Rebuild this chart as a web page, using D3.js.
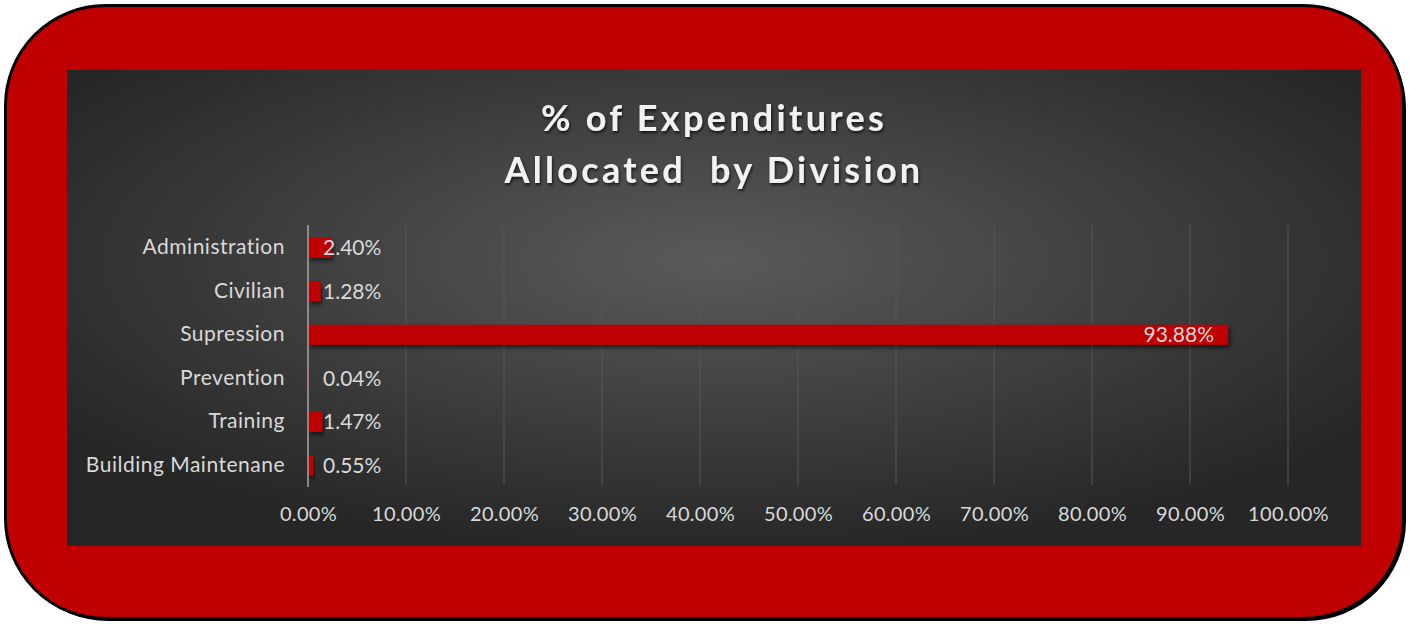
<!DOCTYPE html>
<html>
<head>
<meta charset="utf-8">
<script src="https://cdn.jsdelivr.net/npm/d3@7"></script>
<style>
  html, body { margin: 0; padding: 0; background: #fff; }
  svg { display: block; }
</style>
</head>
<body>
<div id="chart"></div>
<script>
const categories = ['Administration', 'Civilian', 'Supression', 'Prevention', 'Training', 'Building Maintenane'];
const shares = [2.40, 1.28, 93.88, 0.04, 1.47, 0.55];
const tickValues = [0, 10, 20, 30, 40, 50, 60, 70, 80, 90, 100];
const titleLines = ['% of Expenditures', 'Allocated  by Division'];

const width = 1409, height = 624;
const red = '#C00000';
const textColor = '#d9d9d9';
const font = 'Lato, "Open Sans", sans-serif';

const svg = d3.select('#chart').append('svg')
  .attr('width', width)
  .attr('height', height);

const defs = svg.append('defs');

const bg = defs.append('radialGradient')
  .attr('id', 'bg')
  .attr('cx', '50%').attr('cy', '40%').attr('r', '62%')
  .attr('gradientUnits', 'objectBoundingBox');
bg.append('stop').attr('offset', '0%').attr('stop-color', '#5a5a5a');
bg.append('stop').attr('offset', '100%').attr('stop-color', '#262626');

const barShadow = defs.append('filter').attr('id', 'barShadow')
  .attr('x', '-5%').attr('y', '-50%').attr('width', '120%').attr('height', '250%');
barShadow.append('feDropShadow')
  .attr('dx', 2).attr('dy', 3).attr('stdDeviation', 2)
  .attr('flood-color', '#000').attr('flood-opacity', 0.6);

const titleShadow = defs.append('filter').attr('id', 'titleShadow')
  .attr('x', '-10%').attr('y', '-30%').attr('width', '120%').attr('height', '160%');
titleShadow.append('feDropShadow')
  .attr('dx', 1).attr('dy', 2).attr('stdDeviation', 1.5)
  .attr('flood-color', '#000').attr('flood-opacity', 0.7);

// outer red frame with shadow
svg.append('rect')
  .attr('x', 8).attr('y', 8)
  .attr('width', 1398).attr('height', 613)
  .attr('rx', 100).attr('ry', 100)
  .attr('fill', '#000');

svg.append('rect')
  .attr('x', 5.5).attr('y', 5.5)
  .attr('width', 1398).attr('height', 613)
  .attr('rx', 100).attr('ry', 100)
  .attr('fill', red)
  .attr('stroke', '#000')
  .attr('stroke-width', 3);

// chart area
svg.append('rect')
  .attr('x', 67).attr('y', 70)
  .attr('width', 1294).attr('height', 476)
  .attr('fill', 'url(#bg)');

const x = d3.scaleLinear()
  .domain([0, 100])
  .range([308, 1288]);

const y = d3.scaleBand()
  .domain(categories)
  .range([226, 487])
  .paddingInner(0.54)
  .paddingOuter(0.27);

const data = categories.map((c, i) => ({ name: c, value: shares[i] }));

// gridlines
svg.append('g')
  .selectAll('line')
  .data(tickValues.slice(1))
  .join('line')
  .attr('x1', d => x(d)).attr('x2', d => x(d))
  .attr('y1', 225).attr('y2', 485)
  .attr('stroke', '#575757')
  .attr('stroke-width', 1);

// bars
svg.append('g')
  .selectAll('rect')
  .data(data)
  .join('rect')
  .attr('x', x(0))
  .attr('y', d => y(d.name))
  .attr('width', d => Math.max(x(d.value) - x(0), 1))
  .attr('height', y.bandwidth())
  .attr('fill', red)
  .attr('filter', 'url(#barShadow)');

// vertical axis line
svg.append('line')
  .attr('x1', x(0)).attr('x2', x(0))
  .attr('y1', 225).attr('y2', 487)
  .attr('stroke', '#a6a6a6')
  .attr('stroke-width', 1.5);

// category labels
const yAxis = svg.append('g')
  .attr('transform', 'translate(' + (x(0) - 23) + ',0)')
  .call(d3.axisLeft(y).tickSize(0).tickPadding(0));
yAxis.select('.domain').remove();
yAxis.selectAll('text')
  .attr('fill', textColor)
  .style('font-family', font)
  .style('font-size', '21px')
  .style('letter-spacing', '0.5px');

// x tick labels
const xAxis = svg.append('g')
  .attr('transform', 'translate(0,507)')
  .call(d3.axisBottom(x).tickValues(tickValues).tickSize(0).tickPadding(0)
    .tickFormat(d => d.toFixed(2) + '%'));
xAxis.select('.domain').remove();
xAxis.selectAll('text')
  .attr('fill', textColor)
  .attr('dy', '0.71em')
  .style('font-family', font)
  .style('font-size', '20px')
  .style('letter-spacing', '0.3px');

// value labels
svg.append('g')
  .selectAll('text')
  .data(data)
  .join('text')
  .attr('x', d => d.value > 20 ? x(d.value) - 14 : x(0) + 15)
  .attr('y', d => y(d.name) + y.bandwidth() / 2)
  .attr('dy', '0.36em')
  .attr('text-anchor', d => d.value > 20 ? 'end' : 'start')
  .attr('fill', textColor)
  .style('font-family', font)
  .style('font-size', '21px')
  .text(d => d.value.toFixed(2) + '%');

// title
svg.append('g')
  .attr('filter', 'url(#titleShadow)')
  .selectAll('text')
  .data(titleLines)
  .join('text')
  .attr('x', 714)
  .attr('y', (d, i) => 118 + i * 52)
  .attr('dy', '0.35em')
  .attr('text-anchor', 'middle')
  .attr('fill', '#f2f2f2')
  .style('font-family', font)
  .style('font-weight', 'bold')
  .style('font-size', '36px')
  .style('letter-spacing', '3.3px')
  .style('white-space', 'pre')
  .text(d => d);
</script>
</body>
</html>
